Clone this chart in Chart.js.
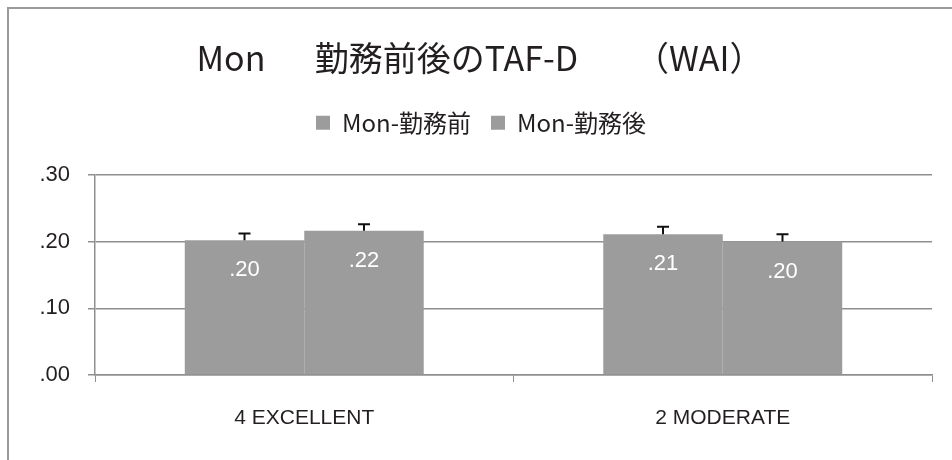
<!DOCTYPE html>
<html lang="ja">

<head>
    <meta charset="UTF-8">
    <title>Mon 勤務前後のTAF-D（WAI）</title>
    <script src="https://cdn.jsdelivr.net/npm/chart.js"></script>
    <style>
        body { margin: 0; background: #fff; }
    </style>
</head>

<body>
    <canvas id="myChart" width="952" height="460"></canvas>

    <script>
        // data
        const categories = ['4 EXCELLENT', '2 MODERATE'];
        const seriesNames = ['Mon-勤務前', 'Mon-勤務後'];
        const beforeValues = [0.202, 0.211];
        const afterValues = [0.216, 0.200];
        const beforeErrors = [0.010, 0.011];
        const afterErrors = [0.010, 0.011];
        const yTicks = [0, 0.1, 0.2, 0.3];

        const barGrey = '#9c9c9c';
        const gridGrey = '#8f8f8f';
        const textColor = '#231f20';
        const jpFont = "'Noto Sans CJK JP', 'Noto Sans', sans-serif";
        const latinFont = "'Liberation Sans', Arial, sans-serif";

        const fmt = v => v.toFixed(2).replace(/^0/, '');

        // frame line on the left and top edge
        const framePlugin = {
            id: 'frame',
            beforeDraw(chart) {
                const c = chart.ctx;
                c.save();
                c.fillStyle = '#fff';
                c.fillRect(0, 0, chart.width, chart.height);
                c.strokeStyle = '#9a9a9a';
                c.lineWidth = 2;
                c.beginPath();
                c.moveTo(8, chart.height);
                c.lineTo(8, 8);
                c.lineTo(chart.width, 8);
                c.stroke();
                c.restore();
            }
        };

        // more room under the legend, and nudge title/legend to the right
        const headerPlugin = {
            id: 'header',
            beforeInit(chart) {
                const fit = chart.legend.fit;
                chart.legend.fit = function () {
                    fit.call(this);
                    this.height += 30;
                };
            },
            afterLayout(chart) {
                chart.legend.left += 15;
                chart.legend.right += 15;
                chart.titleBlock.left += 14;
                chart.titleBlock.right += 14;
            }
        };

        // error bars + white value labels inside the bars
        const errorLabelPlugin = {
            id: 'errorLabels',
            afterDatasetsDraw(chart) {
                const c = chart.ctx;
                const y = chart.scales.y;
                chart.data.datasets.forEach((ds, i) => {
                    const meta = chart.getDatasetMeta(i);
                    meta.data.forEach((bar, j) => {
                        const v = ds.data[j];
                        const top = y.getPixelForValue(v + ds.errors[j]);
                        c.save();
                        c.strokeStyle = '#111';
                        c.lineWidth = 2;
                        c.beginPath();
                        c.moveTo(bar.x, bar.y);
                        c.lineTo(bar.x, top);
                        c.moveTo(bar.x - 6, top);
                        c.lineTo(bar.x + 6, top);
                        c.stroke();

                        c.fillStyle = '#fff';
                        c.font = '22px ' + latinFont;
                        c.textAlign = 'center';
                        c.textBaseline = 'middle';
                        c.fillText(fmt(v), bar.x, bar.y + 30);
                        c.restore();
                    });
                });
            }
        };

        const ctx = document.getElementById('myChart').getContext('2d');

        new Chart(ctx, {
            type: 'bar',
            data: {
                labels: categories,
                datasets: [
                    {
                        label: seriesNames[0],
                        data: beforeValues,
                        errors: beforeErrors,
                        backgroundColor: barGrey,
                        borderWidth: 0,
                    },
                    {
                        label: seriesNames[1],
                        data: afterValues,
                        errors: afterErrors,
                        backgroundColor: barGrey,
                        borderWidth: 0,
                    },
                ],
            },
            options: {
                responsive: false,
                animation: false,
                layout: {
                    padding: { left: 0, right: 20, top: 0, bottom: 0 },
                },
                datasets: {
                    bar: {
                        categoryPercentage: 0.571,
                        barPercentage: 1.0,
                    },
                },
                plugins: {
                    title: {
                        display: true,
                        text: 'Mon　  勤務前後のTAF-D　   （WAI）',
                        color: textColor,
                        font: { family: jpFont, size: 34, weight: 'normal' },
                        padding: { top: 38, bottom: 12 },
                    },
                    legend: {
                        display: true,
                        labels: {
                            color: textColor,
                            font: { family: jpFont, size: 24 },
                            boxWidth: 14,
                            boxHeight: 14,
                            padding: 20,
                        },
                    },
                    tooltip: { enabled: false },
                },
                scales: {
                    x: {
                        afterFit: s => { s.height = 85; },
                        grid: {
                            drawOnChartArea: false,
                            drawTicks: true,
                            tickLength: 7,
                            color: gridGrey,
                        },
                        border: { color: gridGrey, width: 1.5 },
                        ticks: {
                            color: textColor,
                            font: { family: latinFont, size: 21 },
                            padding: 24,
                        },
                    },
                    y: {
                        min: 0,
                        max: 0.3,
                        afterFit: s => { s.width = 95; },
                        afterBuildTicks: s => { s.ticks = yTicks.map(v => ({ value: v })); },
                        grid: {
                            color: gridGrey,
                            lineWidth: 1.5,
                            tickLength: 7,
                        },
                        border: { color: gridGrey, width: 1.5 },
                        ticks: {
                            color: textColor,
                            font: { family: latinFont, size: 22 },
                            padding: 18,
                            callback: v => fmt(v),
                        },
                    },
                },
            },
            plugins: [framePlugin, headerPlugin, errorLabelPlugin],
        });
    </script>
</body>

</html>
